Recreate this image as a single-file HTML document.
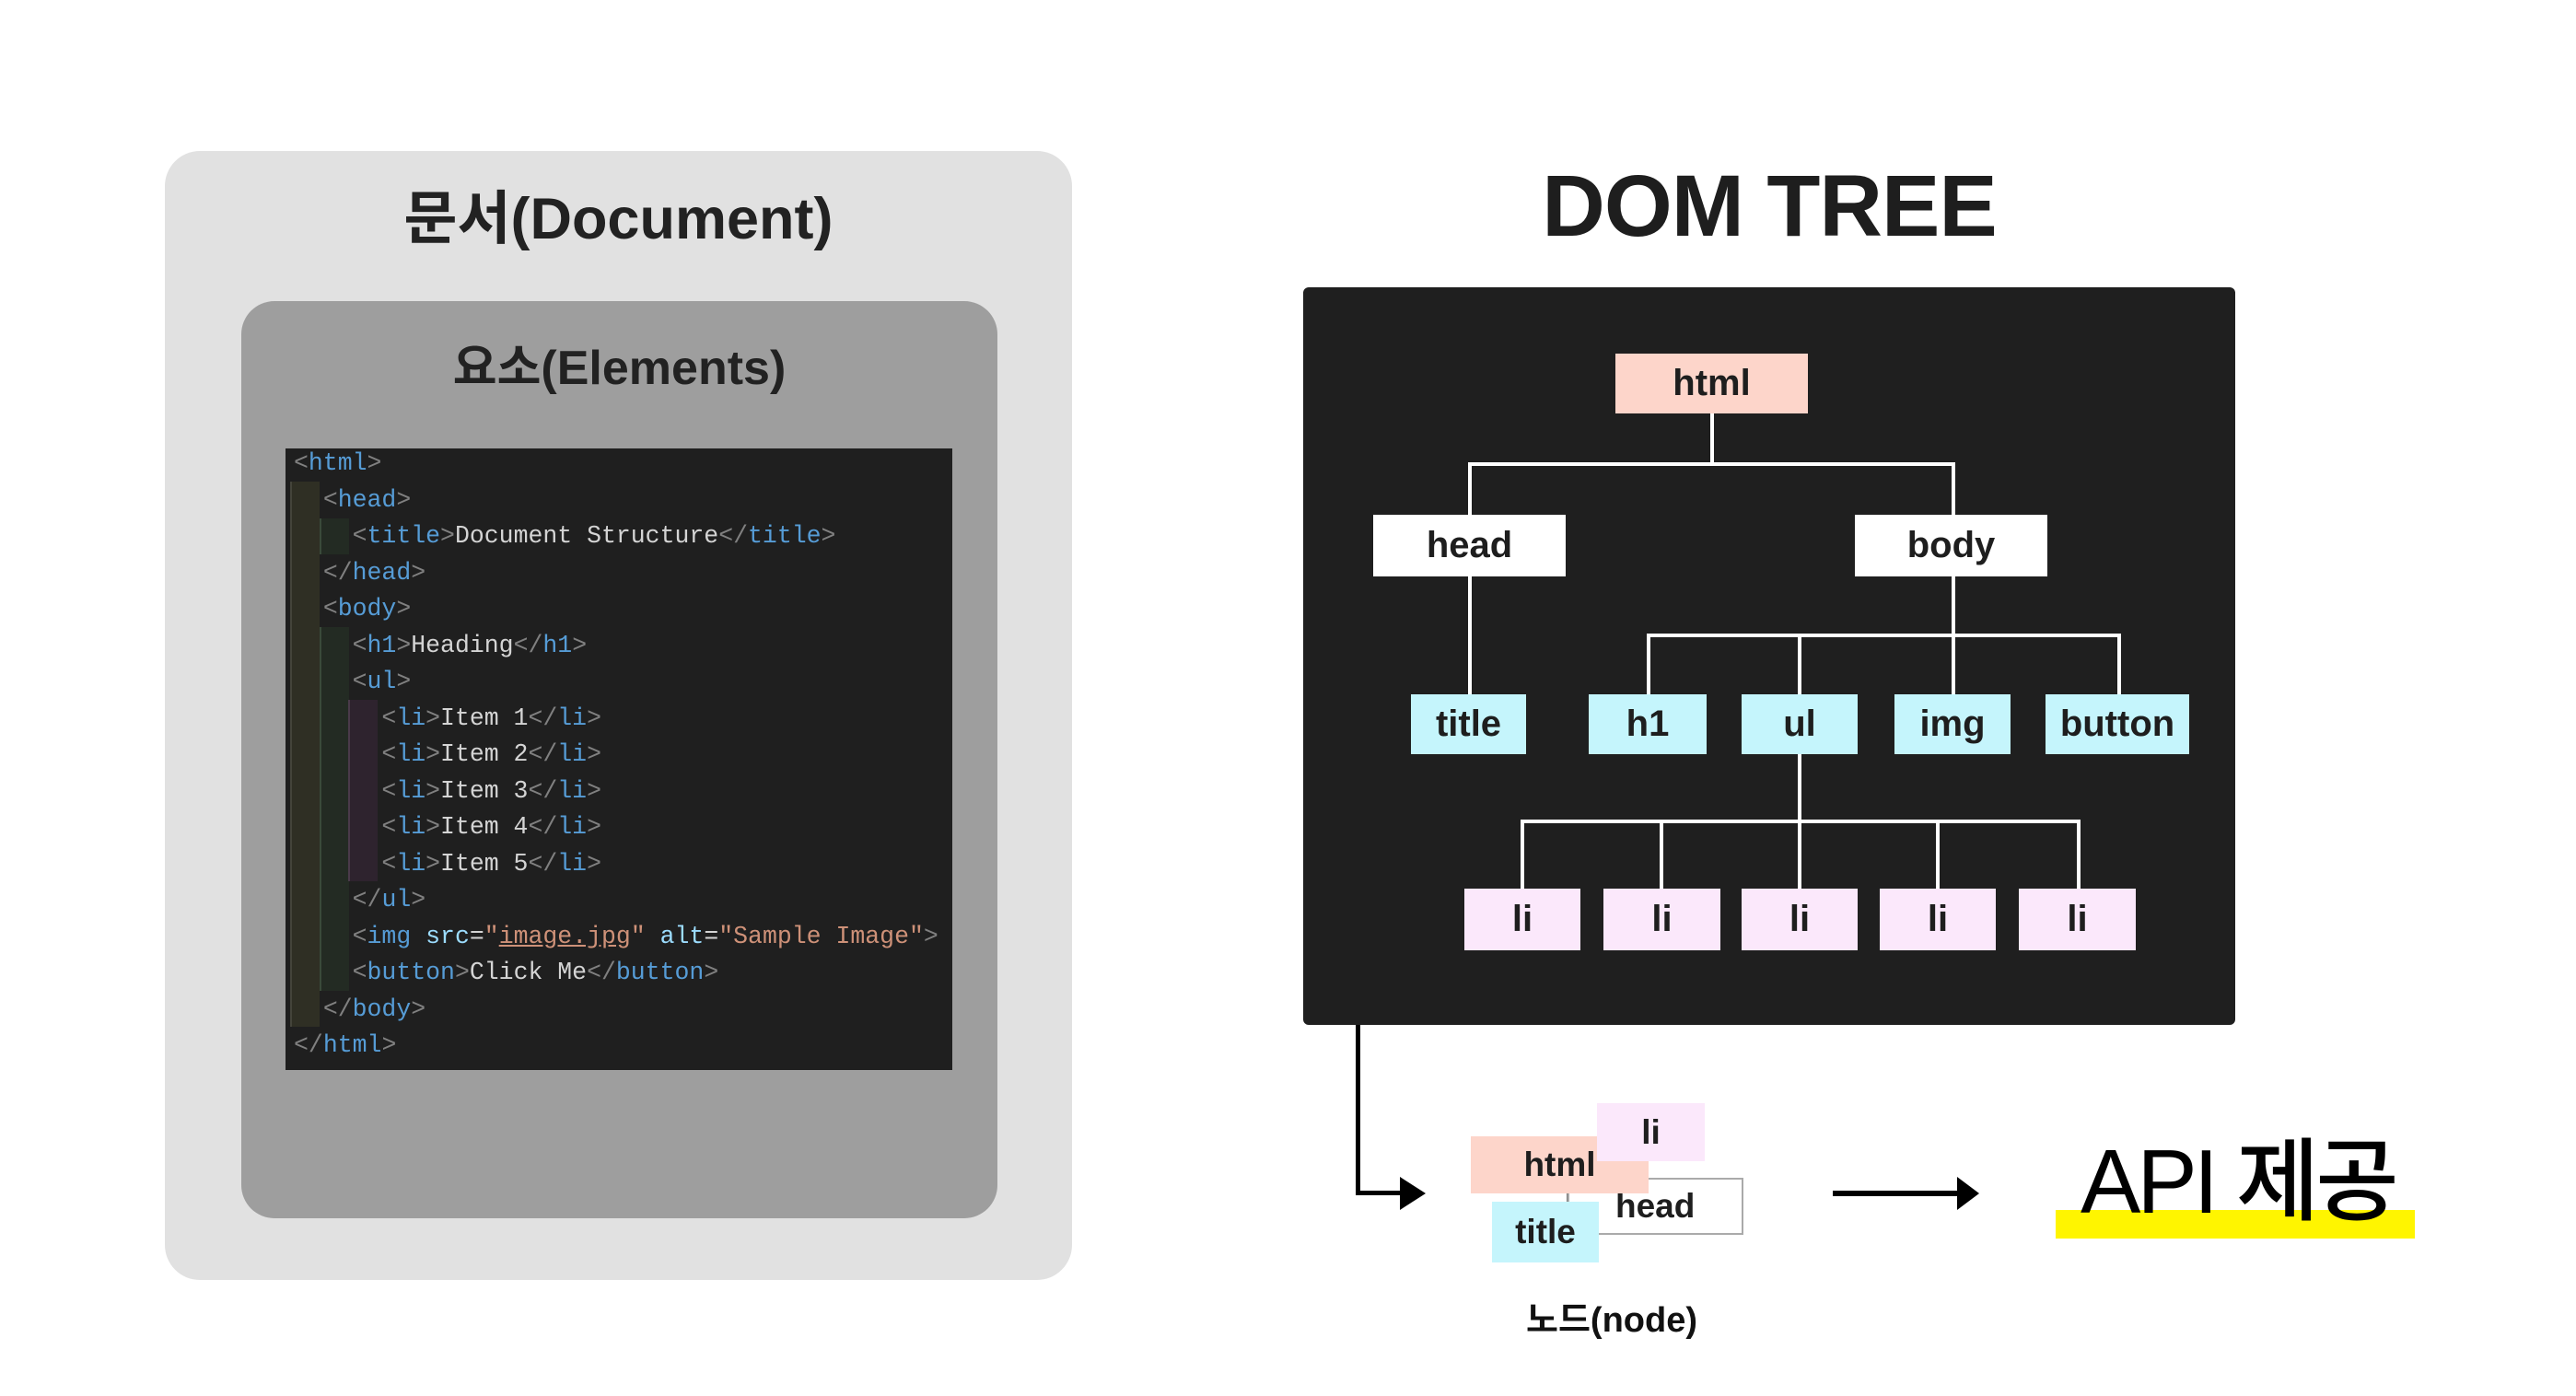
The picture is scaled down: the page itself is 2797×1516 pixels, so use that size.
<!DOCTYPE html>
<html><head><meta charset="utf-8"><style>
body{margin:0;width:2797px;height:1516px;background:#fff;position:relative;overflow:hidden;font-family:"Liberation Sans","Noto Sans CJK KR",sans-serif;}
.a{position:absolute;}
.code{position:absolute;left:319px;font-family:"Liberation Mono",monospace;font-size:26.5px;line-height:39.5px;color:#d4d4d4;white-space:pre;}
.b{color:#808080}.t{color:#569cd6}.n{color:#9cdcfe}.s{color:#ce9178}
.node{position:absolute;display:flex;align-items:center;justify-content:center;font-size:40px;font-weight:bold;color:#1e1e1e;}
.w{background:#fff}.p{background:#fdd5ca}.c{background:#c5f5fc}.l{background:#fbe8fb}
.ln{position:absolute;background:#fff;}
</style></head><body>
<div class="a" style="left:179px;top:164px;width:985px;height:1226px;background:#e1e1e1;border-radius:38px"></div>
<div class="a" style="left:179px;top:187px;width:985px;text-align:center;font-size:63px;font-weight:bold;color:#222">문서(Document)</div>
<div class="a" style="left:262px;top:327px;width:821px;height:996px;background:#9e9e9e;border-radius:36px"></div>
<div class="a" style="left:262px;top:357px;width:821px;text-align:center;font-size:52px;font-weight:bold;color:#222">요소(Elements)</div>
<div class="a" style="left:310px;top:487px;width:724px;height:675px;background:#1f1f1f"></div>
<div class="a" style="left:315px;top:523px;width:30px;height:592px;background:#2f2f24;border-left:2px solid #44443a"></div>
<div class="a" style="left:347px;top:563px;width:30px;height:39px;background:#232b23;border-left:2px solid #3a4a3a"></div>
<div class="a" style="left:347px;top:681px;width:30px;height:395px;background:#232b23;border-left:2px solid #3a4a3a"></div>
<div class="a" style="left:378px;top:760px;width:30px;height:197px;background:#2e232e;border-left:2px solid #4a3a4a"></div>
<div class="code" style="top:484px"><span class="b">&lt;</span><span class="t">html</span><span class="b">&gt;</span>
  <span class="b">&lt;</span><span class="t">head</span><span class="b">&gt;</span>
    <span class="b">&lt;</span><span class="t">title</span><span class="b">&gt;</span>Document Structure<span class="b">&lt;/</span><span class="t">title</span><span class="b">&gt;</span>
  <span class="b">&lt;/</span><span class="t">head</span><span class="b">&gt;</span>
  <span class="b">&lt;</span><span class="t">body</span><span class="b">&gt;</span>
    <span class="b">&lt;</span><span class="t">h1</span><span class="b">&gt;</span>Heading<span class="b">&lt;/</span><span class="t">h1</span><span class="b">&gt;</span>
    <span class="b">&lt;</span><span class="t">ul</span><span class="b">&gt;</span>
      <span class="b">&lt;</span><span class="t">li</span><span class="b">&gt;</span>Item 1<span class="b">&lt;/</span><span class="t">li</span><span class="b">&gt;</span>
      <span class="b">&lt;</span><span class="t">li</span><span class="b">&gt;</span>Item 2<span class="b">&lt;/</span><span class="t">li</span><span class="b">&gt;</span>
      <span class="b">&lt;</span><span class="t">li</span><span class="b">&gt;</span>Item 3<span class="b">&lt;/</span><span class="t">li</span><span class="b">&gt;</span>
      <span class="b">&lt;</span><span class="t">li</span><span class="b">&gt;</span>Item 4<span class="b">&lt;/</span><span class="t">li</span><span class="b">&gt;</span>
      <span class="b">&lt;</span><span class="t">li</span><span class="b">&gt;</span>Item 5<span class="b">&lt;/</span><span class="t">li</span><span class="b">&gt;</span>
    <span class="b">&lt;/</span><span class="t">ul</span><span class="b">&gt;</span>
    <span class="b">&lt;</span><span class="t">img</span> <span class="n">src</span>=<span class="s">"<u>image.jpg</u>"</span> <span class="n">alt</span>=<span class="s">"Sample Image"</span><span class="b">&gt;</span>
    <span class="b">&lt;</span><span class="t">button</span><span class="b">&gt;</span>Click Me<span class="b">&lt;/</span><span class="t">button</span><span class="b">&gt;</span>
  <span class="b">&lt;/</span><span class="t">body</span><span class="b">&gt;</span>
<span class="b">&lt;/</span><span class="t">html</span><span class="b">&gt;</span></div>

<div class="a" style="left:1415px;top:170px;width:1012px;text-align:center;font-size:95px;font-weight:bold;color:#1e1e1e;letter-spacing:-1px">DOM TREE</div>
<div class="a" style="left:1415px;top:312px;width:1012px;height:801px;background:#1f1f1f;border-radius:6px"></div>
<!-- lines -->
<div class="ln" style="left:1857px;top:449px;width:4px;height:56px"></div>
<div class="ln" style="left:1594px;top:502px;width:529px;height:4px"></div>
<div class="ln" style="left:1594px;top:502px;width:4px;height:57px"></div>
<div class="ln" style="left:2119px;top:502px;width:4px;height:57px"></div>
<div class="ln" style="left:1594px;top:626px;width:4px;height:128px"></div>
<div class="ln" style="left:2119px;top:626px;width:4px;height:65px"></div>
<div class="ln" style="left:1788px;top:688px;width:515px;height:4px"></div>
<div class="ln" style="left:1788px;top:688px;width:4px;height:66px"></div>
<div class="ln" style="left:1952px;top:688px;width:4px;height:66px"></div>
<div class="ln" style="left:2119px;top:688px;width:4px;height:66px"></div>
<div class="ln" style="left:2299px;top:688px;width:4px;height:66px"></div>
<div class="ln" style="left:1952px;top:819px;width:4px;height:74px"></div>
<div class="ln" style="left:1651px;top:890px;width:608px;height:4px"></div>
<div class="ln" style="left:1651px;top:890px;width:4px;height:75px"></div>
<div class="ln" style="left:1802px;top:890px;width:4px;height:75px"></div>
<div class="ln" style="left:2102px;top:890px;width:4px;height:75px"></div>
<div class="ln" style="left:2255px;top:890px;width:4px;height:75px"></div>
<div class="ln" style="left:1952px;top:890px;width:4px;height:75px"></div>
<!-- nodes -->
<div class="node p" style="left:1754px;top:384px;width:209px;height:65px">html</div>
<div class="node w" style="left:1491px;top:559px;width:209px;height:67px">head</div>
<div class="node w" style="left:2014px;top:559px;width:209px;height:67px">body</div>
<div class="node c" style="left:1532px;top:754px;width:125px;height:65px">title</div>
<div class="node c" style="left:1725px;top:754px;width:128px;height:65px">h1</div>
<div class="node c" style="left:1891px;top:754px;width:126px;height:65px">ul</div>
<div class="node c" style="left:2057px;top:754px;width:126px;height:65px">img</div>
<div class="node c" style="left:2221px;top:754px;width:156px;height:65px">button</div>
<div class="node l" style="left:1590px;top:965px;width:126px;height:67px">li</div>
<div class="node l" style="left:1741px;top:965px;width:127px;height:67px">li</div>
<div class="node l" style="left:1891px;top:965px;width:126px;height:67px">li</div>
<div class="node l" style="left:2041px;top:965px;width:126px;height:67px">li</div>
<div class="node l" style="left:2192px;top:965px;width:127px;height:67px">li</div>

<!-- bottom arrow -->
<div class="a" style="left:1472px;top:1113px;width:5px;height:185px;background:#000"></div>
<div class="a" style="left:1472px;top:1293px;width:55px;height:5px;background:#000"></div>
<svg class="a" style="left:1520px;top:1278px" width="30" height="36"><polygon points="0,0 28,18 0,36" fill="#000"/></svg>

<!-- node cluster -->
<div class="node w" style="left:1702px;top:1279px;width:191px;height:62px;border:2px solid #aaa;box-sizing:border-box;justify-content:flex-start;padding-left:50px;font-size:37px">head</div>
<div class="a" style="left:1701px;top:1296px;width:1px;height:40px;background:#777"></div>
<div class="node p" style="left:1597px;top:1234px;width:193px;height:62px;font-size:37px">html</div>
<div class="node l" style="left:1734px;top:1198px;width:117px;height:63px;font-size:37px">li</div>
<div class="node c" style="left:1620px;top:1305px;width:116px;height:66px;font-size:37px">title</div>
<div class="a" style="left:1600px;top:1402px;width:300px;text-align:center;font-size:38px;font-weight:bold;color:#111">노드(node)</div>

<div class="a" style="left:1990px;top:1293px;width:140px;height:6px;background:#000"></div>
<svg class="a" style="left:2125px;top:1278px" width="26" height="36"><polygon points="0,0 24,18 0,36" fill="#000"/></svg>

<div class="a" style="left:2232px;top:1314px;width:390px;height:31px;background:#fff500"></div>
<div class="a" style="left:2259px;top:1234px;font-size:98px;font-weight:500;color:#000;letter-spacing:-4px;line-height:1">API 제공</div>
</body></html>
